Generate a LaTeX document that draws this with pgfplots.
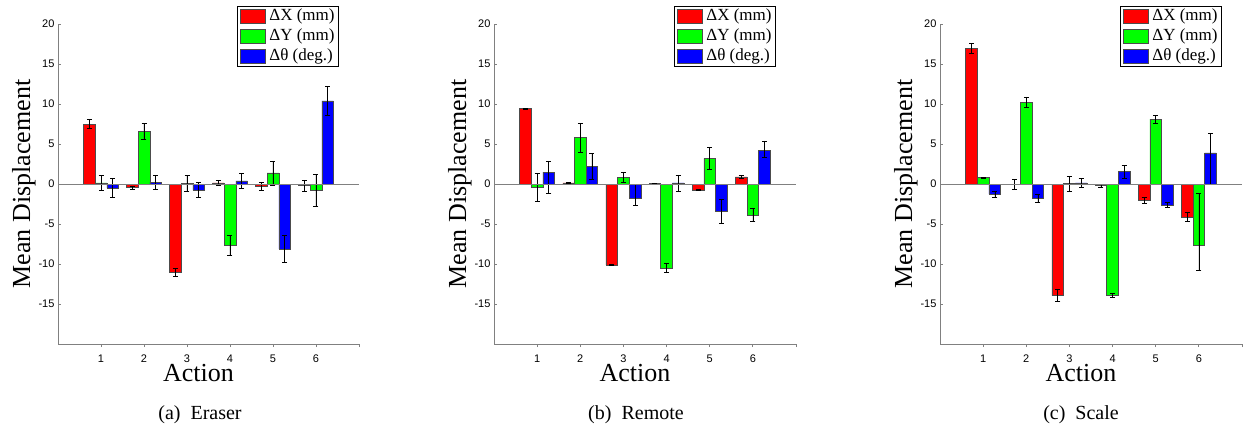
\documentclass[border=0pt]{standalone}
\usepackage{fontspec}
\setmainfont{Liberation Serif}
\newfontfamily\sansf{Liberation Sans}
\usepackage{pgfplots}
\pgfplotsset{compat=1.18}

\pgfplotsset{
  panel/.style={
    scale only axis, width=301pt, height=320pt, anchor=south west,
    xmin=0, xmax=7, ymin=-20, ymax=20,
    axis x line=bottom, axis y line=left,
    axis line style={gray, line width=0.8pt, -},
    tick align=inside, major tick length=3pt,
    tick style={gray, line width=0.8pt},
    xtick={1,...,6}, ytick={-15,-10,...,20},
    extra x ticks={7}, extra x tick labels={},
    tick label style={font=\sansf\fontsize{11}{13}\selectfont},
    /pgf/number format/assume math mode=true,
    x tick label style={inner sep=0pt, yshift=-8pt},
    ybar, bar width=0.27,
    xlabel={Action}, ylabel={Mean Displacement},
    label style={font=\fontsize{26}{30}\selectfont, inner sep=0pt},
    x label style={at={(axis description cs:0.467,-0.118)}, anchor=base},
    y label style={at={(axis description cs:-0.113,0.5)}, anchor=center},
    legend style={at={(1,1)}, anchor=north east, xshift=-20pt, yshift=18pt,
      draw=black, line width=0.8pt, font=\fontsize{17}{20}\selectfont,
      inner xsep=3pt, inner ysep=1pt, row sep=2pt,
      nodes={inner sep=1pt, text height=12pt, text depth=4pt}},
    legend cell align=left,
    clip=false,
  },
  sw/.style={fill=#1, draw=black!70, line width=0.6pt,
    legend image code/.code={\draw[fill=#1, draw=black!70, line width=0.6pt] (0pt,-7pt) rectangle (25pt,7pt);
      \path[draw=none, fill=none] (25pt,-1pt) rectangle (28pt,1pt);},
    error bars/y dir=both, error bars/y explicit,
    error bars/error bar style={black, line width=0.6pt},
    error bars/error mark options={black, rotate=90, mark size=2.5pt, line width=0.6pt}},
}

\begin{document}
\begin{tikzpicture}
\path[use as bounding box] (0,0) rectangle (1243pt,429pt);

% (a) Eraser
\begin{axis}[panel, at={(58pt,85pt)}]
\addplot[sw=red, bar shift=-0.27] coordinates {
  (1,7.5) +- (0,0.55) (2,-0.45) +- (0,0.2) (3,-11.0) +- (0,0.5)
  (4,0.15) +- (0,0.3) (5,-0.3) +- (0,0.5) (6,-0.2) +- (0,0.65)};
\addplot[sw=green, bar shift=0] coordinates {
  (1,0.15) +- (0,0.95) (2,6.6) +- (0,1.05) (3,0.12) +- (0,1.0)
  (4,-7.7) +- (0,1.25) (5,1.4) +- (0,1.5) (6,-0.75) +- (0,2.0)};
\addplot[sw=blue, bar shift=0.27] coordinates {
  (1,-0.5) +- (0,1.2) (2,0.25) +- (0,0.85) (3,-0.75) +- (0,0.95)
  (4,0.4) +- (0,0.95) (5,-8.1) +- (0,1.7) (6,10.4) +- (0,1.85)};
\draw[gray, line width=0.8pt] (axis cs:0,0) -- (axis cs:7,0);
\legend{{ΔX (mm)},{ΔY (mm)},{Δθ (deg.)}}
\end{axis}

% (b) Remote
\begin{axis}[panel, at={(494pt,85pt)}, width=302pt]
\addplot[sw=red, bar shift=-0.27] coordinates {
  (1,9.45) +- (0,0.05) (2,0.15) +- (0,0.1) (3,-10.1) +- (0,0.1)
  (4,0.1) +- (0,0.05) (5,-0.75) +- (0,0.05) (6,0.9) +- (0,0.15)};
\addplot[sw=green, bar shift=0] coordinates {
  (1,-0.45) +- (0,1.75) (2,5.8) +- (0,1.8) (3,0.85) +- (0,0.6)
  (4,-10.5) +- (0,0.55) (5,3.2) +- (0,1.4) (6,-3.85) +- (0,0.8)};
\addplot[sw=blue, bar shift=0.27] coordinates {
  (1,1.5) += (0,1.4) -= (0,2.6) (2,2.25) +- (0,1.6) (3,-1.75) += (0,1.75) -= (0,0.95)
  (4,0.15) +- (0,1.0) (5,-3.4) +- (0,1.5) (6,4.2) += (0,1.2) -= (0,0.8)};
\draw[gray, line width=0.8pt] (axis cs:0,0) -- (axis cs:7,0);
\legend{{ΔX (mm)},{ΔY (mm)},{Δθ (deg.)}}
\end{axis}

% (c) Scale
\begin{axis}[panel, at={(940pt,85pt)}, width=302pt]
\addplot[sw=red, bar shift=-0.27] coordinates {
  (1,16.95) +- (0,0.65) (2,0) +- (0,0.6) (3,-13.95) +- (0,0.75)
  (4,-0.2) +- (0,0.2) (5,-2.0) +- (0,0.35) (6,-4.1) +- (0,0.6)};
\addplot[sw=green, bar shift=0] coordinates {
  (1,0.8) +- (0,0.05) (2,10.25) +- (0,0.65) (3,0.05) +- (0,0.9)
  (4,-13.85) +- (0,0.25) (5,8.1) +- (0,0.45) (6,-7.6) += (0,6.4) -= (0,3.2)};
\addplot[sw=blue, bar shift=0.27] coordinates {
  (1,-1.25) +- (0,0.35) (2,-1.75) +- (0,0.5) (3,0.15) +- (0,0.55)
  (4,1.55) +- (0,0.8) (5,-2.6) +- (0,0.3) (6,3.9) += (0,2.4) -= (0,3.9)};
\draw[gray, line width=0.8pt] (axis cs:0,0) -- (axis cs:7,0);
\legend{{ΔX (mm)},{ΔY (mm)},{Δθ (deg.)}}
\end{axis}

\node[anchor=base, font=\fontsize{20}{24}\selectfont] at (200pt,10pt) {(a)\hspace{0.5em}Eraser};
\node[anchor=base, font=\fontsize{20}{24}\selectfont] at (636pt,10pt) {(b)\hspace{0.5em}Remote};
\node[anchor=base, font=\fontsize{20}{24}\selectfont] at (1081pt,10pt) {(c)\hspace{0.5em}Scale};
\end{tikzpicture}
\end{document}
